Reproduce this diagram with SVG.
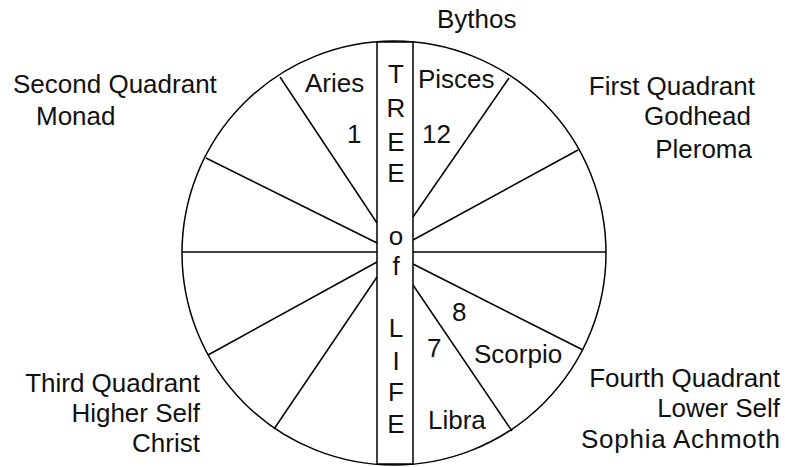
<svg xmlns="http://www.w3.org/2000/svg" width="785" height="467" viewBox="0 0 785 467">
<style>
.ln{stroke:#000;stroke-width:1.5;fill:none}
text{font-family:"Liberation Sans",Arial,sans-serif;font-size:26px;fill:#111}
.m{text-anchor:middle}
.e{text-anchor:end}
</style>
<rect width="785" height="467" fill="#fff"/>
<g id="wheel">
<circle class="ln" cx="394" cy="253" r="212"/>
</g>
<g id="connectors">
<line class="ln" x1="182" y1="252" x2="377" y2="252"/>
<line class="ln" x1="413" y1="252" x2="606" y2="252"/>
<line class="ln" x1="377" y1="223" x2="280" y2="77"/>
<line class="ln" x1="377" y1="243" x2="206" y2="158"/>
<line class="ln" x1="377" y1="262" x2="208" y2="355"/>
<line class="ln" x1="377" y1="277" x2="274" y2="429"/>
<line class="ln" x1="413" y1="217" x2="509" y2="78"/>
<line class="ln" x1="413" y1="240" x2="578" y2="150"/>
<line class="ln" x1="413" y1="264" x2="583" y2="350"/>
<line class="ln" x1="413" y1="285" x2="512" y2="431"/>
</g>
<g id="tree">
<rect x="377" y="42" width="36" height="422" fill="#fff" stroke="#000" stroke-width="1.5"/>
<text class="m" x="396" y="83">T</text>
<text class="m" x="396" y="117">R</text>
<text class="m" x="396" y="151">E</text>
<text class="m" x="396" y="182">E</text>
<text class="m" x="396" y="245">o</text>
<text class="m" x="396" y="275">f</text>
<text class="m" x="396" y="337">L</text>
<text class="m" x="396" y="370">I</text>
<text class="m" x="396" y="401">F</text>
<text class="m" x="396" y="433">E</text>
</g>
<g id="aries"><text x="305" y="92">Aries</text><text x="347" y="143">1</text></g>
<g id="pisces"><text x="418" y="88">Pisces</text><text x="422" y="143">12</text></g>
<g id="scorpio"><text x="452" y="321">8</text><text x="474" y="363">Scorpio</text></g>
<g id="libra"><text x="427" y="357">7</text><text x="428" y="429">Libra</text></g>
<g id="bythos"><text x="437" y="28">Bythos</text></g>
<g id="q2"><text x="13" y="93">Second Quadrant</text><text x="36" y="125">Monad</text></g>
<g id="q1"><text class="e" x="755" y="95">First Quadrant</text><text class="e" x="751" y="125">Godhead</text><text class="e" x="752" y="158">Pleroma</text></g>
<g id="q3"><text class="e" x="200" y="392">Third Quadrant</text><text class="e" x="200" y="422">Higher Self</text><text class="e" x="200" y="452">Christ</text></g>
<g id="q4"><text class="e" x="780" y="387">Fourth Quadrant</text><text class="e" x="780" y="417">Lower Self</text><text class="e" x="780" y="448" textLength="199">Sophia Achmoth</text></g>
</svg>
